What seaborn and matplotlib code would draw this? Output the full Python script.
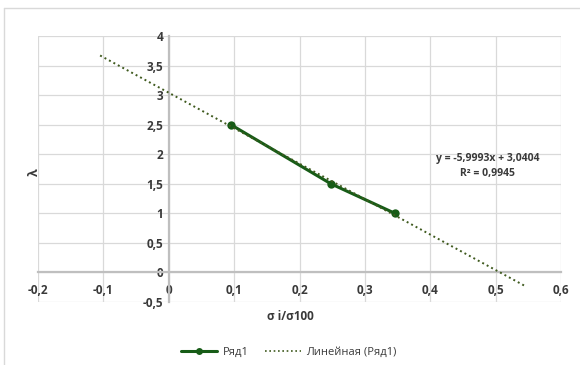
import numpy as np
import pandas as pd
import matplotlib
matplotlib.use("Agg")
import matplotlib.pyplot as plt
from matplotlib.ticker import FuncFormatter, MultipleLocator
from matplotlib.lines import Line2D
import seaborn as sns

# data
sigma_ratio = [0.095, 0.248, 0.346]
lam = [2.5, 1.5, 1.0]
series_name = "Ряд1"
trend_name = "Линейная (Ряд1)"
trend_slope = -5.9993
trend_intercept = 3.0404
trend_x_range = [-0.105, 0.546]
eq_text = "y = -5,9993x + 3,0404"
r2_text = "R² = 0,9945"

sns.set_style("whitegrid")
plt.rcParams['font.family'] = ['Open Sans', 'DejaVu Sans']

line_col = "#175c17"
trend_col = "#3f5a1e"
txt_col = "#3a3a3a"

fig = plt.figure(figsize=(5.8, 3.65), dpi=100)
ax = fig.add_axes([38/580, 1-302/365, (561-38)/580, (302-36)/365])

df = pd.DataFrame({"x": sigma_ratio, "y": lam})
sns.lineplot(data=df, x="x", y="y", ax=ax, color=line_col, lw=2.2,
             marker="o", markersize=6, markeredgewidth=0, sort=False, zorder=3)

tx = np.array(trend_x_range)
ax.plot(tx, trend_slope*tx + trend_intercept, ls=(0, (1, 1.6)), lw=1.4,
        color=trend_col, zorder=4)

ax.set_xlim(-0.2, 0.6)
ax.set_ylim(-0.5, 4)
ax.xaxis.set_major_locator(MultipleLocator(0.1))
ax.yaxis.set_major_locator(MultipleLocator(0.5))

def comma(v, pos):
    s = f"{v:.1f}".rstrip("0").rstrip(".")
    if s == "-0":
        s = "0"
    return s.replace(".", ",")

ax.xaxis.set_major_formatter(FuncFormatter(comma))
ax.yaxis.set_major_formatter(FuncFormatter(comma))

ax.grid(True, color="#d9d9d9", lw=0.9)
for s in ["top", "right"]:
    ax.spines[s].set_visible(False)
ax.spines["left"].set_position(("data", 0))
ax.spines["bottom"].set_position(("data", 0))
for s in ["left", "bottom"]:
    ax.spines[s].set_color("#bfbfbf")
    ax.spines[s].set_linewidth(1.6)
    ax.spines[s].set_zorder(2)
ax.tick_params(length=0, labelsize=8.5, colors=txt_col)
for lab in ax.get_xticklabels() + ax.get_yticklabels():
    lab.set_fontweight("bold")
ax.tick_params(axis="x", pad=8)
ax.tick_params(axis="y", pad=4)

ax.set_xlabel("")
ax.set_ylabel("")
fig.text(290/580, 1-317/365, "σ i/σ100", ha="center", va="center",
         fontsize=8.5, fontweight="bold", color=txt_col)
fig.text(34/580, 1-172/365, "λ", ha="center", va="center", rotation=90,
         fontsize=9, fontweight="bold", color=txt_col)

ax.text(0.488, 1.92, eq_text, ha="center", va="center", fontsize=7.5,
        fontweight="bold", color=txt_col)
ax.text(0.488, 1.67, r2_text, ha="center", va="center", fontsize=7.5,
        fontweight="bold", color=txt_col)

handles = [Line2D([], [], color=line_col, lw=2.2, marker="o", markersize=5,
                  markeredgewidth=0),
           Line2D([], [], color=trend_col, lw=1.2, ls=(0, (1, 1.6)))]
fig.legend(handles, [series_name, trend_name], loc="center",
           bbox_to_anchor=(289/580, 1-352/365), ncol=2, frameon=False,
           fontsize=8, handlelength=3.2, columnspacing=1.5, handletextpad=0.5,
           labelcolor=txt_col)

# outer chart border (left and top visible)
fig.add_artist(Line2D([4/580, 4/580], [0, 1-8/365], transform=fig.transFigure,
                      color="#d9d9d9", lw=1))
fig.add_artist(Line2D([4/580, 1], [1-8/365, 1-8/365], transform=fig.transFigure,
                      color="#d9d9d9", lw=1))

fig.savefig("out.png", dpi=100)
